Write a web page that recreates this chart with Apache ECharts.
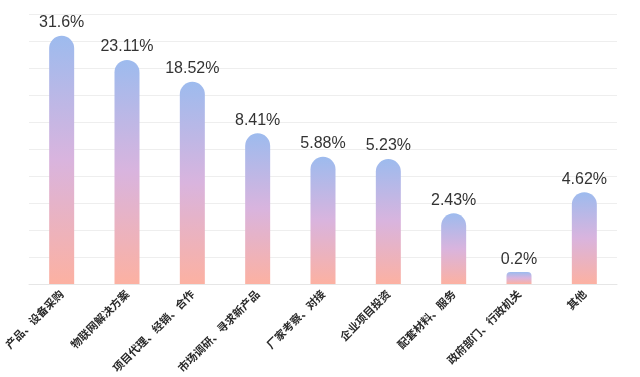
<!DOCTYPE html>
<html>
<head>
    <meta charset="utf-8">
    <script src="https://cdn.jsdelivr.net/npm/echarts@6/dist/echarts.min.js"></script>
    <style>
        html, body { margin: 0; padding: 0; background: #fff; }
        #main { width: 640px; height: 377px; }
    </style>
</head>
<body>
    <div id="main"></div>
    <script type="text/javascript">
        var categories = ['产品、设备采购', '物联网解决方案', '项目代理、经销、合作', '市场调研、寻求新产品',
            '厂家考察、对接', '企业项目投资', '配套材料、服务', '政府部门、行政机关', '其他'];
        // percentage shown above each bar
        var shares = [31.6, 23.11, 18.52, 8.41, 5.88, 5.23, 2.43, 0.2, 4.62];
        // bar heights as drawn in the picture (not proportional to the shares), 0-100 scale
        var barHeights = [91.9, 83, 74.9, 55.8, 47.1, 46.3, 26.2, 4.4, 34];

        var myChart = echarts.init(document.getElementById('main'));

        // very short bars get a smaller corner so they keep a flat-ish top
        var seriesData = barHeights.map(function (h) {
            return h < 10 ? { value: h, itemStyle: { borderRadius: [4, 4, 0, 0] } } : h;
        });

        myChart.setOption({
            animation: false,
            grid: {
                left: 29,
                right: 23,
                top: 14,
                bottom: 93
            },
            xAxis: {
                type: 'category',
                data: categories,
                axisLine: { lineStyle: { color: '#e6e6e6' } },
                axisTick: { show: false },
                axisLabel: {
                    interval: 0,
                    rotate: 45,
                    margin: 8,
                    fontSize: 11,
                    fontWeight: 'bold',
                    color: '#2a2a2a',
                    fontFamily: 'Noto Sans CJK SC'
                }
            },
            yAxis: {
                type: 'value',
                min: 0,
                max: 100,
                interval: 10,
                axisLabel: { show: false },
                axisLine: { show: false },
                axisTick: { show: false },
                splitLine: { lineStyle: { color: '#eeeeee' } }
            },
            series: [{
                type: 'bar',
                barWidth: 25,
                data: seriesData,
                itemStyle: {
                    borderRadius: [13, 13, 0, 0],
                    color: new echarts.graphic.LinearGradient(0, 0, 0, 1, [
                        { offset: 0, color: '#9dbbee' },
                        { offset: 0.5, color: '#d9b4de' },
                        { offset: 1, color: '#fcb1a2' }
                    ])
                },
                label: {
                    show: true,
                    position: 'top',
                    distance: 5,
                    fontSize: 16,
                    color: '#333',
                    fontFamily: 'Liberation Sans',
                    formatter: function (params) {
                        return shares[params.dataIndex] + '%';
                    }
                }
            }]
        });
    </script>
</body>
</html>
